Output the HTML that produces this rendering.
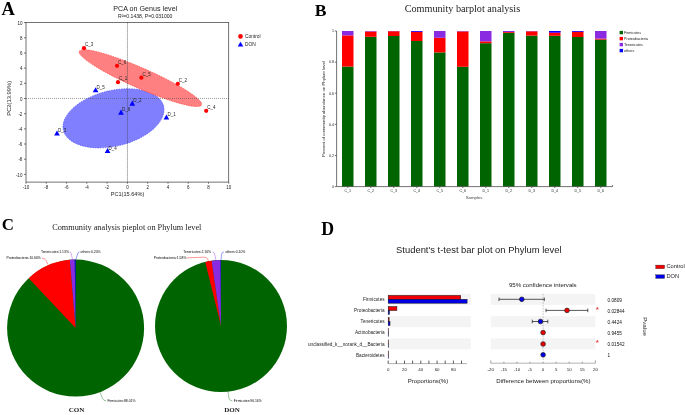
<!DOCTYPE html>
<html><head><meta charset="utf-8"><title>Figure</title>
<style>
html,body{margin:0;padding:0;background:#fff;}
body{width:685px;height:415px;overflow:hidden;}
svg{display:block;}
text{font-family:"Liberation Sans",Arial,sans-serif;fill:#222;}
.serif{font-family:"Liberation Serif","Times New Roman",serif;}
.pl{font-weight:bold;font-size:18.5px;fill:#000;}
.t45{font-size:4.5px;}
.ax{stroke:#444;stroke-width:0.75;fill:none;}
</style></head><body>
<svg width="685" height="415" viewBox="0 0 685 415">
<rect width="685" height="415" fill="#fff"/>

<g id="panelA">
<text class="serif pl" x="1.5" y="15">A</text>
<text x="145.3" y="11" font-size="7.15" text-anchor="middle" fill="#3a3a3a">PCA on Genus level</text>
<text x="145.2" y="17.8" font-size="5.1" text-anchor="middle" fill="#333">R²=0.1438, P=0.031000</text>
<ellipse cx="113.5" cy="118.3" rx="51.5" ry="27.8" transform="rotate(-13.5 113.5 118.3)" fill="#8080ff" stroke="#2020ff" stroke-width="0.5" stroke-dasharray="1.5 1"/>
<ellipse cx="140.4" cy="78.1" rx="66.8" ry="10.2" transform="rotate(23.7 140.4 78.1)" fill="#ff8080" stroke="#ff2020" stroke-width="0.5" stroke-dasharray="1.5 1"/>
<line x1="26" x2="228.7" y1="98.5" y2="98.5" stroke="#505050" stroke-width="0.55" stroke-dasharray="1 1"/>
<line x1="127.45" x2="127.45" y1="22.6" y2="182.1" stroke="#404040" stroke-width="0.75" stroke-dasharray="1 1"/>
<rect class="ax" x="26" y="22.6" width="202.7" height="159.5"/>
<line class="ax" x1="26.0" x2="26.0" y1="182.1" y2="183.7"/>
<text class="t45" x="26.0" y="188.7" text-anchor="middle">-10</text>
<line class="ax" x1="24" x2="26" y1="174.4" y2="174.4"/>
<text class="t45" x="22.4" y="176.5" text-anchor="end">-10</text>
<line class="ax" x1="46.3" x2="46.3" y1="182.1" y2="183.7"/>
<text class="t45" x="46.3" y="188.7" text-anchor="middle">-8</text>
<line class="ax" x1="24" x2="26" y1="159.2" y2="159.2"/>
<text class="t45" x="22.4" y="161.3" text-anchor="end">-8</text>
<line class="ax" x1="66.6" x2="66.6" y1="182.1" y2="183.7"/>
<text class="t45" x="66.6" y="188.7" text-anchor="middle">-6</text>
<line class="ax" x1="24" x2="26" y1="144.0" y2="144.0"/>
<text class="t45" x="22.4" y="146.1" text-anchor="end">-6</text>
<line class="ax" x1="86.8" x2="86.8" y1="182.1" y2="183.7"/>
<text class="t45" x="86.8" y="188.7" text-anchor="middle">-4</text>
<line class="ax" x1="24" x2="26" y1="128.9" y2="128.9"/>
<text class="t45" x="22.4" y="131.0" text-anchor="end">-4</text>
<line class="ax" x1="107.1" x2="107.1" y1="182.1" y2="183.7"/>
<text class="t45" x="107.1" y="188.7" text-anchor="middle">-2</text>
<line class="ax" x1="24" x2="26" y1="113.7" y2="113.7"/>
<text class="t45" x="22.4" y="115.8" text-anchor="end">-2</text>
<line class="ax" x1="127.4" x2="127.4" y1="182.1" y2="183.7"/>
<text class="t45" x="127.4" y="188.7" text-anchor="middle">0</text>
<line class="ax" x1="24" x2="26" y1="98.5" y2="98.5"/>
<text class="t45" x="22.4" y="100.6" text-anchor="end">0</text>
<line class="ax" x1="147.7" x2="147.7" y1="182.1" y2="183.7"/>
<text class="t45" x="147.7" y="188.7" text-anchor="middle">2</text>
<line class="ax" x1="24" x2="26" y1="83.3" y2="83.3"/>
<text class="t45" x="22.4" y="85.4" text-anchor="end">2</text>
<line class="ax" x1="168.0" x2="168.0" y1="182.1" y2="183.7"/>
<text class="t45" x="168.0" y="188.7" text-anchor="middle">4</text>
<line class="ax" x1="24" x2="26" y1="68.1" y2="68.1"/>
<text class="t45" x="22.4" y="70.2" text-anchor="end">4</text>
<line class="ax" x1="188.2" x2="188.2" y1="182.1" y2="183.7"/>
<text class="t45" x="188.2" y="188.7" text-anchor="middle">6</text>
<line class="ax" x1="24" x2="26" y1="53.0" y2="53.0"/>
<text class="t45" x="22.4" y="55.1" text-anchor="end">6</text>
<line class="ax" x1="208.5" x2="208.5" y1="182.1" y2="183.7"/>
<text class="t45" x="208.5" y="188.7" text-anchor="middle">8</text>
<line class="ax" x1="24" x2="26" y1="37.8" y2="37.8"/>
<text class="t45" x="22.4" y="39.9" text-anchor="end">8</text>
<line class="ax" x1="228.8" x2="228.8" y1="182.1" y2="183.7"/>
<text class="t45" x="228.8" y="188.7" text-anchor="middle">10</text>
<line class="ax" x1="24" x2="26" y1="22.6" y2="22.6"/>
<text class="t45" x="22.4" y="24.7" text-anchor="end">10</text>
<text x="127.5" y="195.6" font-size="5.6" text-anchor="middle" fill="#333">PC1(15.64%)</text>
<text transform="translate(10.6 98.3) rotate(-90)" font-size="5.8" text-anchor="middle" fill="#333">PC2(13.99%)</text>
<circle cx="84" cy="48.2" r="2.1" fill="#f00"/>
<text class="t45" x="85" y="46.3">C_3</text>
<circle cx="117" cy="65.8" r="2.1" fill="#f00"/>
<text class="t45" x="118" y="63.9">C_6</text>
<circle cx="118" cy="82.2" r="2.1" fill="#f00"/>
<text class="t45" x="119" y="80.3">C_1</text>
<circle cx="141.4" cy="77.7" r="2.1" fill="#f00"/>
<text class="t45" x="142.4" y="75.8">C_5</text>
<circle cx="177.8" cy="83.8" r="2.1" fill="#f00"/>
<text class="t45" x="178.8" y="81.9">C_2</text>
<circle cx="206.2" cy="110.8" r="2.1" fill="#f00"/>
<text class="t45" x="207.2" y="108.9">C_4</text>
<path d="M92.75 92.3L98.45 92.3L95.6 87.2Z" fill="#00f"/>
<text class="t45" x="96.6" y="88.7">D_5</text>
<path d="M129.45 105.7L135.15 105.7L132.3 100.6Z" fill="#00f"/>
<text class="t45" x="133.3" y="102.1">D_2</text>
<path d="M118.15 114.7L123.85 114.7L121 109.6Z" fill="#00f"/>
<text class="t45" x="122" y="111.1">D_6</text>
<path d="M163.55 119.6L169.25 119.6L166.4 114.5Z" fill="#00f"/>
<text class="t45" x="167.4" y="116.0">D_1</text>
<path d="M54.15 135.5L59.85 135.5L57 130.4Z" fill="#00f"/>
<text class="t45" x="58" y="131.9">D_3</text>
<path d="M104.75 153.1L110.45 153.1L107.6 148.0Z" fill="#00f"/>
<text class="t45" x="108.6" y="149.5">D_4</text>
<circle cx="240.5" cy="36.4" r="2.3" fill="#f00"/>
<text x="245" y="38.1" font-size="4.8">Control</text>
<path d="M237.7 46.6L243.3 46.6L240.5 41.8Z" fill="#00f"/>
<text x="245" y="46.2" font-size="4.8">DON</text>
</g>
<g id="panelB">
<text class="serif pl" x="314.8" y="16.4" style="font-size:17.6px">B</text>
<text class="serif" x="462.4" y="12.3" font-size="10.2" text-anchor="middle" fill="#111">Community barplot analysis</text>
<rect x="342" y="66.6" width="11.5" height="120.0" fill="#006400"/>
<rect x="342" y="35.4" width="11.5" height="31.2" fill="#ff0000"/>
<rect x="342" y="31.0" width="11.5" height="4.4" fill="#8a2be2"/>
<line class="ax" x1="347.75" x2="347.75" y1="186.6" y2="188.0"/>
<text x="347.75" y="191.79999999999998" font-size="3.6" text-anchor="middle">C_1</text>
<rect x="365" y="36.8" width="11.5" height="149.8" fill="#006400"/>
<rect x="365" y="31.5" width="11.5" height="5.3" fill="#ff0000"/>
<rect x="365" y="31.0" width="11.5" height="0.5" fill="#8a2be2"/>
<line class="ax" x1="370.75" x2="370.75" y1="186.6" y2="188.0"/>
<text x="370.75" y="191.79999999999998" font-size="3.6" text-anchor="middle">C_2</text>
<rect x="388" y="36" width="11.5" height="150.6" fill="#006400"/>
<rect x="388" y="31.2" width="11.5" height="4.8" fill="#ff0000"/>
<rect x="388" y="31.0" width="11.5" height="0.2" fill="#8a2be2"/>
<line class="ax" x1="393.75" x2="393.75" y1="186.6" y2="188.0"/>
<text x="393.75" y="191.79999999999998" font-size="3.6" text-anchor="middle">C_3</text>
<rect x="411" y="41" width="11.5" height="145.6" fill="#006400"/>
<rect x="411" y="32" width="11.5" height="9.0" fill="#ff0000"/>
<rect x="411" y="31.0" width="11.5" height="1.0" fill="#8a2be2"/>
<rect x="411" y="31.0" width="11.5" height="0.5" fill="#0000ff"/>
<line class="ax" x1="416.75" x2="416.75" y1="186.6" y2="188.0"/>
<text x="416.75" y="191.79999999999998" font-size="3.6" text-anchor="middle">C_4</text>
<rect x="434" y="52.4" width="11.5" height="134.2" fill="#006400"/>
<rect x="434" y="37.8" width="11.5" height="14.6" fill="#ff0000"/>
<rect x="434" y="31.0" width="11.5" height="6.8" fill="#8a2be2"/>
<line class="ax" x1="439.75" x2="439.75" y1="186.6" y2="188.0"/>
<text x="439.75" y="191.79999999999998" font-size="3.6" text-anchor="middle">C_5</text>
<rect x="457" y="66.8" width="11.5" height="119.8" fill="#006400"/>
<rect x="457" y="31.4" width="11.5" height="35.4" fill="#ff0000"/>
<rect x="457" y="31.0" width="11.5" height="0.4" fill="#8a2be2"/>
<line class="ax" x1="462.75" x2="462.75" y1="186.6" y2="188.0"/>
<text x="462.75" y="191.79999999999998" font-size="3.6" text-anchor="middle">C_6</text>
<rect x="480" y="43.2" width="11.5" height="143.4" fill="#006400"/>
<rect x="480" y="41.4" width="11.5" height="1.8" fill="#ff0000"/>
<rect x="480" y="31.0" width="11.5" height="10.4" fill="#8a2be2"/>
<line class="ax" x1="485.75" x2="485.75" y1="186.6" y2="188.0"/>
<text x="485.75" y="191.79999999999998" font-size="3.6" text-anchor="middle">D_1</text>
<rect x="503" y="32.8" width="11.5" height="153.8" fill="#006400"/>
<rect x="503" y="32" width="11.5" height="0.8" fill="#ff0000"/>
<rect x="503" y="31.0" width="11.5" height="1.0" fill="#8a2be2"/>
<line class="ax" x1="508.75" x2="508.75" y1="186.6" y2="188.0"/>
<text x="508.75" y="191.79999999999998" font-size="3.6" text-anchor="middle">D_2</text>
<rect x="526" y="35.6" width="11.5" height="151.0" fill="#006400"/>
<rect x="526" y="31.3" width="11.5" height="4.3" fill="#ff0000"/>
<rect x="526" y="31.0" width="11.5" height="0.3" fill="#8a2be2"/>
<line class="ax" x1="531.75" x2="531.75" y1="186.6" y2="188.0"/>
<text x="531.75" y="191.79999999999998" font-size="3.6" text-anchor="middle">D_3</text>
<rect x="549" y="35.8" width="11.5" height="150.8" fill="#006400"/>
<rect x="549" y="33" width="11.5" height="2.8" fill="#ff0000"/>
<rect x="549" y="31.0" width="11.5" height="2.0" fill="#8a2be2"/>
<rect x="549" y="31.0" width="11.5" height="1.2" fill="#0000ff"/>
<line class="ax" x1="554.75" x2="554.75" y1="186.6" y2="188.0"/>
<text x="554.75" y="191.79999999999998" font-size="3.6" text-anchor="middle">D_4</text>
<rect x="572" y="37" width="11.5" height="149.6" fill="#006400"/>
<rect x="572" y="32" width="11.5" height="5.0" fill="#ff0000"/>
<rect x="572" y="31.0" width="11.5" height="1.0" fill="#8a2be2"/>
<rect x="572" y="31.0" width="11.5" height="0.5" fill="#0000ff"/>
<line class="ax" x1="577.75" x2="577.75" y1="186.6" y2="188.0"/>
<text x="577.75" y="191.79999999999998" font-size="3.6" text-anchor="middle">D_5</text>
<rect x="595" y="39.6" width="11.5" height="147.0" fill="#006400"/>
<rect x="595" y="38.6" width="11.5" height="1.0" fill="#ff0000"/>
<rect x="595" y="31.0" width="11.5" height="7.6" fill="#8a2be2"/>
<line class="ax" x1="600.75" x2="600.75" y1="186.6" y2="188.0"/>
<text x="600.75" y="191.79999999999998" font-size="3.6" text-anchor="middle">D_6</text>
<path class="ax" d="M336.6 31.0L336.6 186.6L612.6 186.6L612.6 185.0"/>
<line class="ax" x1="334.8" x2="336.6" y1="186.6" y2="186.6"/>
<text x="334" y="187.9" font-size="3.6" text-anchor="end">0</text>
<line class="ax" x1="334.8" x2="336.6" y1="155.5" y2="155.5"/>
<text x="334" y="156.8" font-size="3.6" text-anchor="end">0.2</text>
<line class="ax" x1="334.8" x2="336.6" y1="124.4" y2="124.4"/>
<text x="334" y="125.7" font-size="3.6" text-anchor="end">0.4</text>
<line class="ax" x1="334.8" x2="336.6" y1="93.2" y2="93.2"/>
<text x="334" y="94.5" font-size="3.6" text-anchor="end">0.6</text>
<line class="ax" x1="334.8" x2="336.6" y1="62.1" y2="62.1"/>
<text x="334" y="63.4" font-size="3.6" text-anchor="end">0.8</text>
<line class="ax" x1="334.8" x2="336.6" y1="31.0" y2="31.0"/>
<text x="334" y="32.3" font-size="3.6" text-anchor="end">1</text>
<text x="474" y="199" font-size="4.3" text-anchor="middle" style="fill:#444">Samples</text>
<text transform="translate(325 109) rotate(-90)" font-size="4.3" text-anchor="middle">Percent of community abundance on Phylum level</text>
<rect x="619.6" y="30.9" width="3.4" height="3.4" fill="#006400"/>
<text x="624" y="33.9" font-size="3.7">Firmicutes</text>
<rect x="619.6" y="36.9" width="3.4" height="3.4" fill="#ff0000"/>
<text x="624" y="39.9" font-size="3.7">Proteobacteria</text>
<rect x="619.6" y="42.9" width="3.4" height="3.4" fill="#8a2be2"/>
<text x="624" y="45.9" font-size="3.7">Tenericutes</text>
<rect x="619.6" y="48.9" width="3.4" height="3.4" fill="#0000ff"/>
<text x="624" y="51.9" font-size="3.7">others</text>
</g>
<g id="panelC">
<text class="serif pl" x="1.8" y="229.9" style="font-size:16.9px">C</text>
<text class="serif" x="126.8" y="230.2" font-size="8.25" text-anchor="middle" fill="#111">Community analysis pieplot on Phylum level</text>
<circle cx="75.6" cy="328.1" r="68.5" fill="#006400"/>
<path d="M75.6 328.1L28.74 278.14A68.5 68.5 0 0 1 69.88 259.84Z" fill="#ff0000"/>
<path d="M75.6 328.1L69.88 259.84A68.5 68.5 0 0 1 74.74 259.61Z" fill="#8a2be2"/>
<path d="M75.6 328.1L74.74 259.61A68.5 68.5 0 0 1 75.60 259.60Z" fill="#0000ff"/>
<circle cx="221" cy="326" r="66" fill="#006400"/>
<path d="M221 326L205.23 261.91A66 66 0 0 1 211.66 260.66Z" fill="#ff0000"/>
<path d="M221 326L211.66 260.66A66 66 0 0 1 220.59 260.00Z" fill="#8a2be2"/>
<path d="M221 326L220.59 260.00A66 66 0 0 1 221.00 260.00Z" fill="#0000ff"/>
<text x="6.4" y="259.2" font-size="3.4" style="fill:#000">Proteobacteria:10.66%</text>
<text x="41" y="252.8" font-size="3.4" style="fill:#000">Tenericutes:1.13%</text>
<text x="80.6" y="252.8" font-size="3.4" style="fill:#000">others:0.20%</text>
<text x="107.4" y="401.8" font-size="3.4" style="fill:#000">Firmicutes:88.01%</text>
<path d="M42 258.2Q45 258 46 260.5L48 264.6" fill="none" stroke="#f00" stroke-width="0.4"/>
<path d="M69.5 252Q71 252 71.3 254L72.6 259.8" fill="none" stroke="#8a2be2" stroke-width="0.4"/>
<path d="M79.5 252Q78 252 77.6 254L75.8 259.6" fill="none" stroke="#00f" stroke-width="0.4"/>
<path d="M100 392.2L102.5 398.5Q103.5 400.8 106 400.8" fill="none" stroke="#006400" stroke-width="0.4"/>
<text x="153.8" y="258.9" font-size="3.4" style="fill:#000">Proteobacteria:1.58%</text>
<text x="183.2" y="252.9" font-size="3.4" style="fill:#000">Tenericutes:2.16%</text>
<text x="225.4" y="252.9" font-size="3.4" style="fill:#000">others:0.10%</text>
<text x="233.7" y="401.9" font-size="3.4" style="fill:#000">Firmicutes:96.16%</text>
<path d="M187 257.8L204 257.2Q207 257.2 207.6 259L208.6 261.6" fill="none" stroke="#f00" stroke-width="0.4"/>
<path d="M212.5 252Q214.3 252 214.6 254L216 260.4" fill="none" stroke="#8a2be2" stroke-width="0.4"/>
<path d="M224 252Q222 252 221.6 254L221 260" fill="none" stroke="#00f" stroke-width="0.4"/>
<path d="M228 391.6L229 398.5Q229.6 400.8 232.4 400.8" fill="none" stroke="#006400" stroke-width="0.4"/>
<text class="serif" x="76.6" y="412.4" font-size="7" font-weight="bold" text-anchor="middle" fill="#000">CON</text>
<text class="serif" x="232" y="412.2" font-size="7" font-weight="bold" text-anchor="middle" fill="#000">DON</text>
</g>
<g id="panelD">
<text class="serif pl" x="321.3" y="235.4" style="font-size:17.8px">D</text>
<text x="478.8" y="253.3" font-size="9.42" text-anchor="middle" fill="#222">Student's t-test bar plot on Phylum level</text>
<rect x="388.2" y="293.9" width="82.6" height="11" fill="#f4f4f4"/>
<rect x="490.8" y="293.9" width="104.6" height="11" fill="#f4f4f4"/>
<text x="384.6" y="301.0" font-size="4.7" text-anchor="end">Firmicutes</text>
<text x="607.6" y="301.6" font-size="4.7" style="fill:#111">0.0809</text>
<text x="384.6" y="312.2" font-size="4.7" text-anchor="end">Proteobacteria</text>
<text x="607.6" y="312.8" font-size="4.7" style="fill:#111">0.02844</text>
<rect x="388.2" y="316.2" width="82.6" height="11" fill="#f4f4f4"/>
<rect x="490.8" y="316.2" width="104.6" height="11" fill="#f4f4f4"/>
<text x="384.6" y="323.3" font-size="4.7" text-anchor="end">Tenericutes</text>
<text x="607.6" y="323.9" font-size="4.7" style="fill:#111">0.4424</text>
<text x="384.6" y="334.3" font-size="4.7" text-anchor="end">Actinobacteria</text>
<text x="607.6" y="334.9" font-size="4.7" style="fill:#111">0.9455</text>
<rect x="388.2" y="338.4" width="82.6" height="11" fill="#f4f4f4"/>
<rect x="490.8" y="338.4" width="104.6" height="11" fill="#f4f4f4"/>
<text x="384.6" y="345.5" font-size="4.7" text-anchor="end">unclassified_k__norank_d__Bacteria</text>
<text x="607.6" y="346.1" font-size="4.7" style="fill:#111">0.01542</text>
<text x="384.6" y="356.5" font-size="4.7" text-anchor="end">Bacteroidetes</text>
<text x="607.6" y="357.1" font-size="4.7" style="fill:#111">1</text>
<rect x="388.2" y="295.4" width="72.5" height="3.9" fill="#f00000" stroke="#111" stroke-width="0.5"/>
<rect x="388.2" y="299.3" width="78.9" height="3.9" fill="#0000e8" stroke="#111" stroke-width="0.5"/>
<rect x="388.2" y="306.6" width="8.7" height="3.9" fill="#f00000" stroke="#111" stroke-width="0.5"/>
<rect x="388.2" y="310.5" width="1.3" height="3.9" fill="#0000e8" stroke="#111" stroke-width="0.5"/>
<rect x="388.2" y="317.7" width="0.9" height="3.9" fill="#f00000" stroke="#111" stroke-width="0.5"/>
<rect x="388.2" y="321.6" width="1.8" height="3.9" fill="#0000e8" stroke="#111" stroke-width="0.5"/>
<rect x="388.2" y="328.7" width="0.3" height="3.9" fill="#f00000" stroke="#111" stroke-width="0.5"/>
<rect x="388.2" y="332.6" width="0.3" height="3.9" fill="#0000e8" stroke="#111" stroke-width="0.5"/>
<rect x="388.2" y="339.9" width="0.3" height="3.9" fill="#f00000" stroke="#111" stroke-width="0.5"/>
<rect x="388.2" y="343.8" width="0.3" height="3.9" fill="#0000e8" stroke="#111" stroke-width="0.5"/>
<rect x="388.2" y="350.9" width="0.3" height="3.9" fill="#f00000" stroke="#111" stroke-width="0.5"/>
<rect x="388.2" y="354.8" width="0.3" height="3.9" fill="#0000e8" stroke="#111" stroke-width="0.5"/>
<line class="ax" x1="388.2" x2="467" y1="363.6" y2="363.6" style="stroke-width:0.45;stroke:#555"/>
<line class="ax" x1="388.2" x2="388.2" y1="363.6" y2="360.6" stroke-width="0.5" style="stroke:#222"/>
<text x="388.2" y="371.0" font-size="4.4" text-anchor="middle">0</text>
<line class="ax" x1="396.3" x2="396.3" y1="363.6" y2="360.6" stroke-width="0.5" style="stroke:#222"/>
<line class="ax" x1="404.5" x2="404.5" y1="363.6" y2="360.6" stroke-width="0.5" style="stroke:#222"/>
<text x="404.5" y="371.0" font-size="4.4" text-anchor="middle">20</text>
<line class="ax" x1="412.6" x2="412.6" y1="363.6" y2="360.6" stroke-width="0.5" style="stroke:#222"/>
<line class="ax" x1="420.8" x2="420.8" y1="363.6" y2="360.6" stroke-width="0.5" style="stroke:#222"/>
<text x="420.8" y="371.0" font-size="4.4" text-anchor="middle">40</text>
<line class="ax" x1="428.9" x2="428.9" y1="363.6" y2="360.6" stroke-width="0.5" style="stroke:#222"/>
<line class="ax" x1="437.1" x2="437.1" y1="363.6" y2="360.6" stroke-width="0.5" style="stroke:#222"/>
<text x="437.1" y="371.0" font-size="4.4" text-anchor="middle">60</text>
<line class="ax" x1="445.2" x2="445.2" y1="363.6" y2="360.6" stroke-width="0.5" style="stroke:#222"/>
<line class="ax" x1="453.4" x2="453.4" y1="363.6" y2="360.6" stroke-width="0.5" style="stroke:#222"/>
<text x="453.4" y="371.0" font-size="4.4" text-anchor="middle">80</text>
<line class="ax" x1="461.5" x2="461.5" y1="363.6" y2="360.6" stroke-width="0.5" style="stroke:#222"/>
<text x="428" y="382.9" font-size="6.1" text-anchor="middle">Proportions(%)</text>
<line x1="543.1" x2="543.1" y1="293.8" y2="360.5" stroke="#888" stroke-width="0.5" stroke-dasharray="1.6 1.2"/>
<line class="ax" x1="490.8" x2="595.4" y1="363.20000000000005" y2="363.20000000000005" style="stroke-width:0.45;stroke:#555"/>
<line class="ax" x1="490.8" x2="490.8" y1="363.20000000000005" y2="360.40000000000003" style="stroke-width:0.5;stroke:#444"/>
<text x="490.8" y="370.8" font-size="4.4" text-anchor="middle">-20</text>
<line class="ax" x1="503.9" x2="503.9" y1="363.20000000000005" y2="361.70000000000005" style="stroke-width:0.5;stroke:#444"/>
<text x="503.9" y="370.8" font-size="4.4" text-anchor="middle">-15</text>
<line class="ax" x1="517.0" x2="517.0" y1="363.20000000000005" y2="361.70000000000005" style="stroke-width:0.5;stroke:#444"/>
<text x="517.0" y="370.8" font-size="4.4" text-anchor="middle">-10</text>
<line class="ax" x1="530.0" x2="530.0" y1="363.20000000000005" y2="361.70000000000005" style="stroke-width:0.5;stroke:#444"/>
<text x="530.0" y="370.8" font-size="4.4" text-anchor="middle">-5</text>
<line class="ax" x1="543.1" x2="543.1" y1="363.20000000000005" y2="361.70000000000005" style="stroke-width:0.5;stroke:#444"/>
<text x="543.1" y="370.8" font-size="4.4" text-anchor="middle">0</text>
<line class="ax" x1="556.2" x2="556.2" y1="363.20000000000005" y2="361.70000000000005" style="stroke-width:0.5;stroke:#444"/>
<text x="556.2" y="370.8" font-size="4.4" text-anchor="middle">5</text>
<line class="ax" x1="569.2" x2="569.2" y1="363.20000000000005" y2="361.70000000000005" style="stroke-width:0.5;stroke:#444"/>
<text x="569.2" y="370.8" font-size="4.4" text-anchor="middle">10</text>
<line class="ax" x1="582.3" x2="582.3" y1="363.20000000000005" y2="361.70000000000005" style="stroke-width:0.5;stroke:#444"/>
<text x="582.3" y="370.8" font-size="4.4" text-anchor="middle">15</text>
<line class="ax" x1="595.4" x2="595.4" y1="363.20000000000005" y2="360.40000000000003" style="stroke-width:0.5;stroke:#444"/>
<text x="595.4" y="370.8" font-size="4.4" text-anchor="middle">20</text>
<text x="543.4" y="382.9" font-size="6.1" text-anchor="middle">Difference between proportions(%)</text>
<text x="542.8" y="286.8" font-size="6.1" text-anchor="middle">95% confidence intervals</text>
<path d="M499 299.3L544.3 299.3M499 297.5L499 301.1M544.3 297.5L544.3 301.1" stroke="#111" stroke-width="0.7" fill="none"/>
<path d="M546 310.4L587.8 310.4M546 308.59999999999997L546 312.2M587.8 308.59999999999997L587.8 312.2" stroke="#111" stroke-width="0.7" fill="none"/>
<path d="M532.3 321.5L547.8 321.5M532.3 319.7L532.3 323.3M547.8 319.7L547.8 323.3" stroke="#111" stroke-width="0.7" fill="none"/>
<circle cx="521.8" cy="299.3" r="2.35" fill="#0000e8" stroke="#222" stroke-width="0.7"/>
<circle cx="567" cy="310.4" r="2.35" fill="#f00000" stroke="#222" stroke-width="0.7"/>
<circle cx="540.5" cy="321.5" r="2.35" fill="#0000e8" stroke="#222" stroke-width="0.7"/>
<circle cx="543.1" cy="332.6" r="2.35" fill="#f00000" stroke="#222" stroke-width="0.7"/>
<circle cx="543.1" cy="344" r="2.35" fill="#f00000" stroke="#222" stroke-width="0.7"/>
<circle cx="543.1" cy="354.8" r="2.35" fill="#0000e8" stroke="#222" stroke-width="0.7"/>
<text x="597.3" y="312.1" font-size="8" font-weight="bold" text-anchor="middle" style="fill:#f04545">*</text>
<text x="597.3" y="345.4" font-size="8" font-weight="bold" text-anchor="middle" style="fill:#f04545">*</text>
<text transform="translate(643 326.6) rotate(90)" font-size="6.2" text-anchor="middle">Pvalue</text>
<rect x="655.8" y="265.1" width="8.8" height="3.6" fill="#f00000" stroke="#222" stroke-width="0.35"/>
<text x="666.4" y="268.3" font-size="5.7">Control</text>
<rect x="655.8" y="274.8" width="8.8" height="3.6" fill="#0000e8" stroke="#222" stroke-width="0.35"/>
<text x="666.4" y="278" font-size="5.7">DON</text>
</g>
</svg></body></html>
